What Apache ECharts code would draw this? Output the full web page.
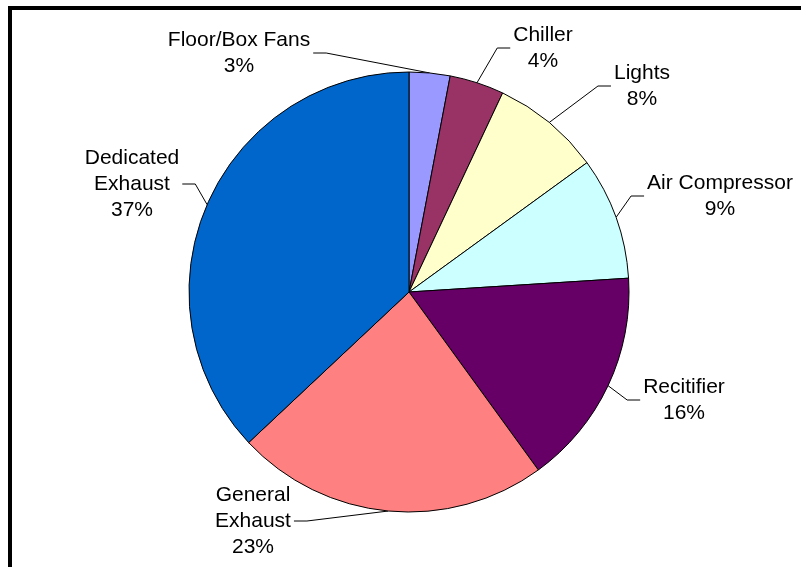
<!DOCTYPE html>
<html>
<head>
<meta charset="utf-8">
<script src="https://cdn.jsdelivr.net/npm/echarts@6/dist/echarts.min.js"></script>
<style>
html,body{margin:0;padding:0;background:#fff;}
#chart{width:801px;height:567px;}
</style>
</head>
<body>
<div id="chart"></div>
<script>
var categories = ['Floor/Box Fans', 'Chiller', 'Lights', 'Air Compressor', 'Recitifier', 'General\nExhaust', 'Dedicated\nExhaust'];
var values = [3, 4, 8, 9, 16, 23, 37];
var colors = ['#9999FF', '#993366', '#FFFFCC', '#CCFFFF', '#660066', '#FF8080', '#0066CC'];
// label block centres (layout only)
var labelCenters = [[239, 53], [543, 48], [642, 86], [720, 196], [684, 400], [253, 521], [132, 184]];

var chart = echarts.init(document.getElementById('chart'));
var data = categories.map(function (c, i) {
  return { name: c, value: values[i], itemStyle: { color: colors[i] } };
});
chart.setOption({
  animation: false,
  backgroundColor: '#ffffff',
  graphic: [{
    type: 'rect',
    shape: { x: 10, y: 8, width: 900, height: 700 },
    style: { fill: 'none', stroke: '#000', lineWidth: 4 },
    silent: true
  }],
  series: [{
    type: 'pie',
    center: [409, 292],
    radius: 220,
    startAngle: 90,
    clockwise: true,
    avoidLabelOverlap: false,
    data: data,
    itemStyle: { borderColor: '#000', borderWidth: 1 },
    label: {
      show: true,
      formatter: function (p) { return p.name + '\n' + p.value + '%'; },
      fontFamily: 'Liberation Sans, Arial, sans-serif',
      fontSize: 21,
      lineHeight: 26,
      color: '#000',
      align: 'center'
    },
    labelLine: {
      show: true,
      length: 10,
      length2: 10,
      lineStyle: { color: '#000', width: 1 }
    },
    labelLayout: function (p) {
      var c = labelCenters[p.dataIndex];
      var w = p.labelRect.width;
      var a = p.labelLinePoints ? p.labelLinePoints[0] : [c[0], c[1]];
      var pts;
      if (a[0] < c[0]) {
        var left = c[0] - w / 2;
        pts = [a, [left - 16, c[1]], [left - 3, c[1]]];
      } else {
        var right = c[0] + w / 2;
        pts = [a, [right + 16, c[1]], [right + 3, c[1]]];
      }
      return {
        x: c[0],
        y: c[1],
        align: 'center',
        verticalAlign: 'middle',
        labelLinePoints: pts
      };
    }
  }]
});
</script>
</body>
</html>
